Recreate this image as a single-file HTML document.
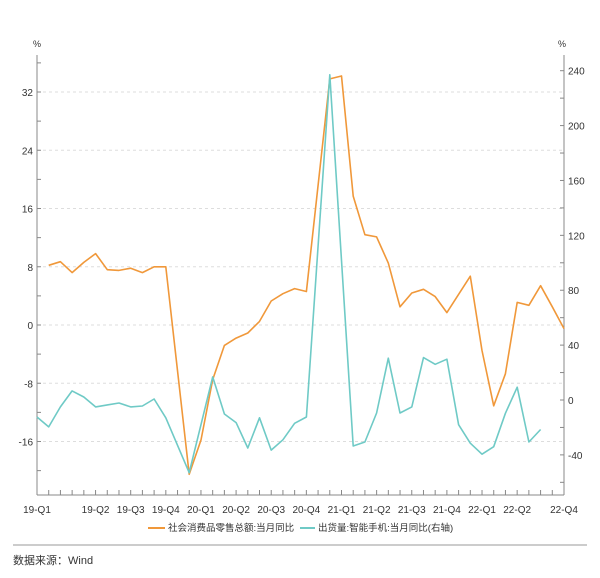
<!DOCTYPE html>
<html><head><meta charset="utf-8">
<style>
body{margin:0;background:#fff;}
svg text{font-family:"Liberation Sans","Noto Sans CJK SC",sans-serif;fill:#333;}
</style></head>
<body>
<svg id="chart" width="600" height="573" viewBox="0 0 600 573">
<g id="grid"></g>
<g id="axes"></g>
<g id="series"></g>
<g>
 <line x1="148" y1="528" x2="165" y2="528" stroke="#f0983a" stroke-width="2"/>
 <text x="168" y="531" font-size="9.5">社会消费品零售总额:当月同比</text>
 <line x1="300" y1="528" x2="315" y2="528" stroke="#6fcac6" stroke-width="2"/>
 <text x="318" y="531" font-size="9.5">出货量:智能手机:当月同比(右轴)</text>
</g>
<line x1="13" y1="545" x2="587" y2="545" stroke="#999" stroke-width="1"/>
<text x="13" y="564" font-size="11">数据来源：Wind</text>
<text x="33" y="47" font-size="9">%</text>
<text x="558" y="47" font-size="9">%</text>
</svg>
<script>
const xLabels = ["19-Q1","19-Q2","19-Q3","19-Q4","20-Q1","20-Q2","20-Q3","20-Q4","21-Q1","21-Q2","21-Q3","21-Q4","22-Q1","22-Q2","22-Q4"];
const xLabelIdx = [0,5,8,11,14,17,20,23,26,29,32,35,38,41,45];
const leftTicks = [32,24,16,8,0,-8,-16];
const rightTicks = [240,200,160,120,80,40,0,-40];
const retail = [null,8.2,8.7,7.2,8.6,9.8,7.6,7.5,7.8,7.2,8.0,8.0,
 null,-20.5,-15.8,-7.5,-2.8,-1.8,-1.1,0.5,3.3,4.3,5.0,4.6,
 null,33.8,34.2,17.7,12.4,12.1,8.5,2.5,4.4,4.9,3.9,1.7,
 null,6.7,-3.5,-11.1,-6.7,3.1,2.7,5.4,2.5,-0.5];
const phone = [-12.4,-19.6,-5,6.6,2.2,-5,-3.6,-2.2,-5,-4.4,0.7,-13,
 null,-53,null,16.8,-10.2,-16.5,-35,-13,-36.5,-29,-17,-12.4,
 null,237,null,-33.5,-30.6,-9.5,30.5,-9.5,-5,30.9,26,29.7,
 -18,-31.5,-39.5,-34,-9.7,9.3,-30.6,-21.5];

const NS="http://www.w3.org/2000/svg";
const X0=37,X1=564,YT=55,YB=495;
const x=i=>X0+(X1-X0)*i/45;
const yL=v=>325-(v*58.25/8);
const yR=v=>400-(v*329.3/240);
function mk(tag,attrs,parent){const e=document.createElementNS(NS,tag);for(const k in attrs)e.setAttribute(k,attrs[k]);parent.appendChild(e);return e;}
const grid=document.getElementById('grid'),axes=document.getElementById('axes'),series=document.getElementById('series');

leftTicks.forEach(v=>{
 const g=mk('line',{x1:X0,x2:X1,y1:yL(v),y2:yL(v),stroke:'#ddd','stroke-dasharray':'3,3'},grid);
 
 
 const t=mk('text',{x:X0-4,y:yL(v)+4,'font-size':10,'text-anchor':'end'},axes);
 t.textContent=v;
 
 
});
for(let v=36;v>=-20;v-=4){mk('line',{x1:X0,x2:X0+4,y1:yL(v),y2:yL(v),stroke:'#888'},axes);}
rightTicks.forEach(v=>{
 const t=mk('text',{x:X1+4,y:yR(v)+4,'font-size':10},axes);
 t.textContent=v;
 
 
});
for(let v=240;v>=-60;v-=20){mk('line',{x1:X1-4,x2:X1,y1:yR(v),y2:yR(v),stroke:'#888'},axes);}
mk('line',{x1:X0,x2:X0,y1:YT,y2:YB,stroke:'#888'},axes);
mk('line',{x1:X1,x2:X1,y1:YT,y2:YB,stroke:'#888'},axes);
mk('line',{x1:X0,x2:X1,y1:YB,y2:YB,stroke:'#888'},axes);
for(let i=0;i<=45;i++){mk('line',{x1:x(i),x2:x(i),y1:YB,y2:YB-5,stroke:'#888'},axes);}
xLabels.forEach((l,k)=>{
 const t=mk('text',{x:x(xLabelIdx[k]),y:513,'font-size':10,'text-anchor':'middle'},axes);
 t.textContent=l;
 
 
});
function pts(arr,f){const p=[];arr.forEach((v,i)=>{if(v!==null)p.push(x(i).toFixed(1)+','+f(v).toFixed(1));});return p.join(' ');}
const l1=mk('polyline',{points:pts(retail,yL),fill:'none',stroke:'#f0983a','stroke-width':1.6,'stroke-linejoin':'round'},series);


const l2=mk('polyline',{points:pts(phone,yR),fill:'none',stroke:'#6fcac6','stroke-width':1.6,'stroke-linejoin':'round'},series);


</script>
</body></html>
